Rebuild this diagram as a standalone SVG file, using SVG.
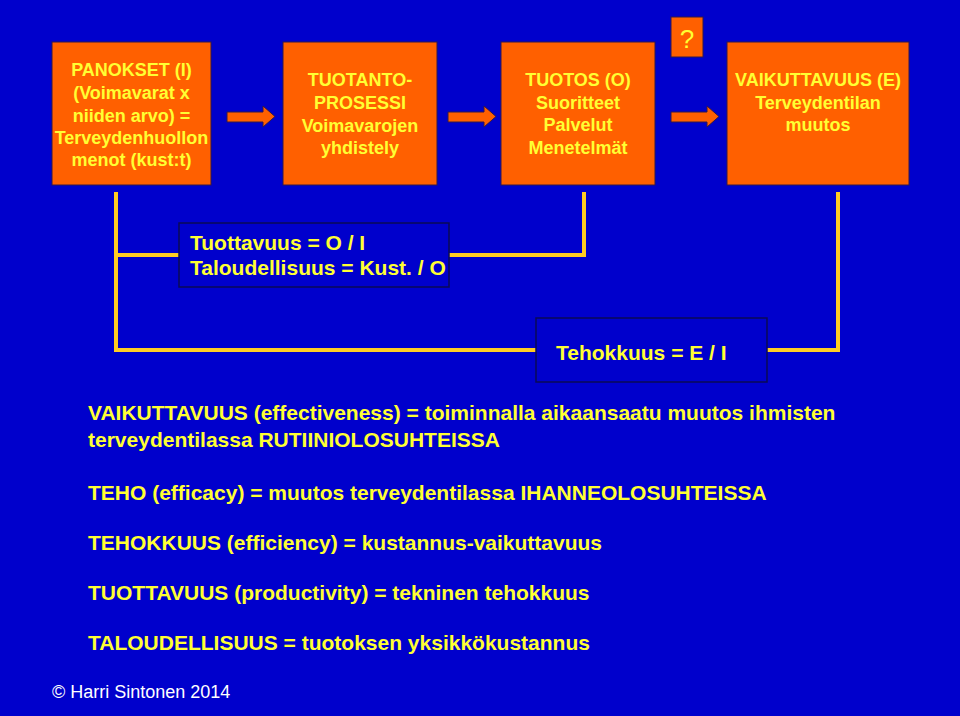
<svg xmlns="http://www.w3.org/2000/svg" width="960" height="716" viewBox="0 0 960 716">
<style>
.box{fill:#FF6000;stroke:#33184a;stroke-width:1}
.tbox{fill:#0000CC;stroke:#0a0a55;stroke-width:1.5}
.bt{font-family:"Liberation Sans",Arial,sans-serif;font-weight:bold;font-size:18px;fill:#FFFF33;text-anchor:middle}
.lt{font-family:"Liberation Sans",Arial,sans-serif;font-weight:bold;font-size:21px;fill:#FFFF33}
.ln{fill:none;stroke:#FFCC22;stroke-width:4}
.arr{fill:#FF6000;stroke:#33184a;stroke-width:1}
</style>
<rect width="960" height="716" fill="#0000CC"/>

<g id="connectors">
<path class="ln" d="M116,192 V350 H536"/>
<path class="ln" d="M116,255 H179"/>
<path class="ln" d="M449,255 H584 V192"/>
<path class="ln" d="M767,350 H838 V192"/>
<path class="arr" d="M227,112 H263 V106 L275,116.5 L263,127 V122 H227 Z"/>
<path class="arr" d="M448,112 H484 V106 L496,116.5 L484,127 V122 H448 Z"/>
<path class="arr" d="M671,112 H707 V106 L719,116.5 L707,127 V122 H671 Z"/>
</g>

<g id="panokset">
<rect class="box" x="52" y="42" width="159" height="143"/>
<text class="bt" x="131.5" y="76">PANOKSET (I)</text>
<text class="bt" x="131.5" y="99">(Voimavarat x</text>
<text class="bt" x="131.5" y="122">niiden arvo) =</text>
<text class="bt" x="131.5" y="144">Terveydenhuollon</text>
<text class="bt" x="131.5" y="166">menot (kust:t)</text>
</g>

<g id="tuotantoprosessi">
<rect class="box" x="283" y="42" width="154" height="143"/>
<text class="bt" x="360" y="86">TUOTANTO-</text>
<text class="bt" x="360" y="109">PROSESSI</text>
<text class="bt" x="360" y="132">Voimavarojen</text>
<text class="bt" x="360" y="154">yhdistely</text>
</g>

<g id="tuotos">
<rect class="box" x="501" y="42" width="154" height="143"/>
<text class="bt" x="578" y="86">TUOTOS (O)</text>
<text class="bt" x="578" y="109">Suoritteet</text>
<text class="bt" x="578" y="131">Palvelut</text>
<text class="bt" x="578" y="154">Menetelmät</text>
</g>

<g id="question">
<rect class="box" x="671" y="17" width="32" height="40"/>
<text x="687" y="48" font-family="'Liberation Sans',Arial,sans-serif" font-size="26" fill="#FFFF33" text-anchor="middle">?</text>
</g>

<g id="vaikuttavuus">
<rect class="box" x="727" y="42" width="182" height="143"/>
<text class="bt" x="818" y="86">VAIKUTTAVUUS (E)</text>
<text class="bt" x="818" y="109">Terveydentilan</text>
<text class="bt" x="818" y="131">muutos</text>
</g>

<g id="tuottavuus">
<rect class="tbox" x="179" y="223" width="270" height="64"/>
<text class="lt" x="190" y="250">Tuottavuus = O / I</text>
<text class="lt" x="190" y="275">Taloudellisuus = Kust. / O</text>
</g>

<g id="tehokkuus">
<rect class="tbox" x="536" y="318" width="231" height="64"/>
<text class="lt" x="556" y="360" font-size="23">Tehokkuus = E / I</text>
</g>

<g id="definitions">
<text class="lt" x="88" y="420">VAIKUTTAVUUS (effectiveness) = toiminnalla aikaansaatu muutos ihmisten</text>
<text class="lt" x="88" y="447">terveydentilassa RUTIINIOLOSUHTEISSA</text>
<text class="lt" x="88" y="500">TEHO (efficacy) = muutos terveydentilassa IHANNEOLOSUHTEISSA</text>
<text class="lt" x="88" y="550">TEHOKKUUS (efficiency) = kustannus-vaikuttavuus</text>
<text class="lt" x="88" y="600">TUOTTAVUUS (productivity) = tekninen tehokkuus</text>
<text class="lt" x="88" y="650">TALOUDELLISUUS = tuotoksen yksikkökustannus</text>
</g>

<text x="52" y="698" font-family="'Liberation Sans',Arial,sans-serif" font-size="18" fill="#FFFFFF">© Harri Sintonen 2014</text>
</svg>
